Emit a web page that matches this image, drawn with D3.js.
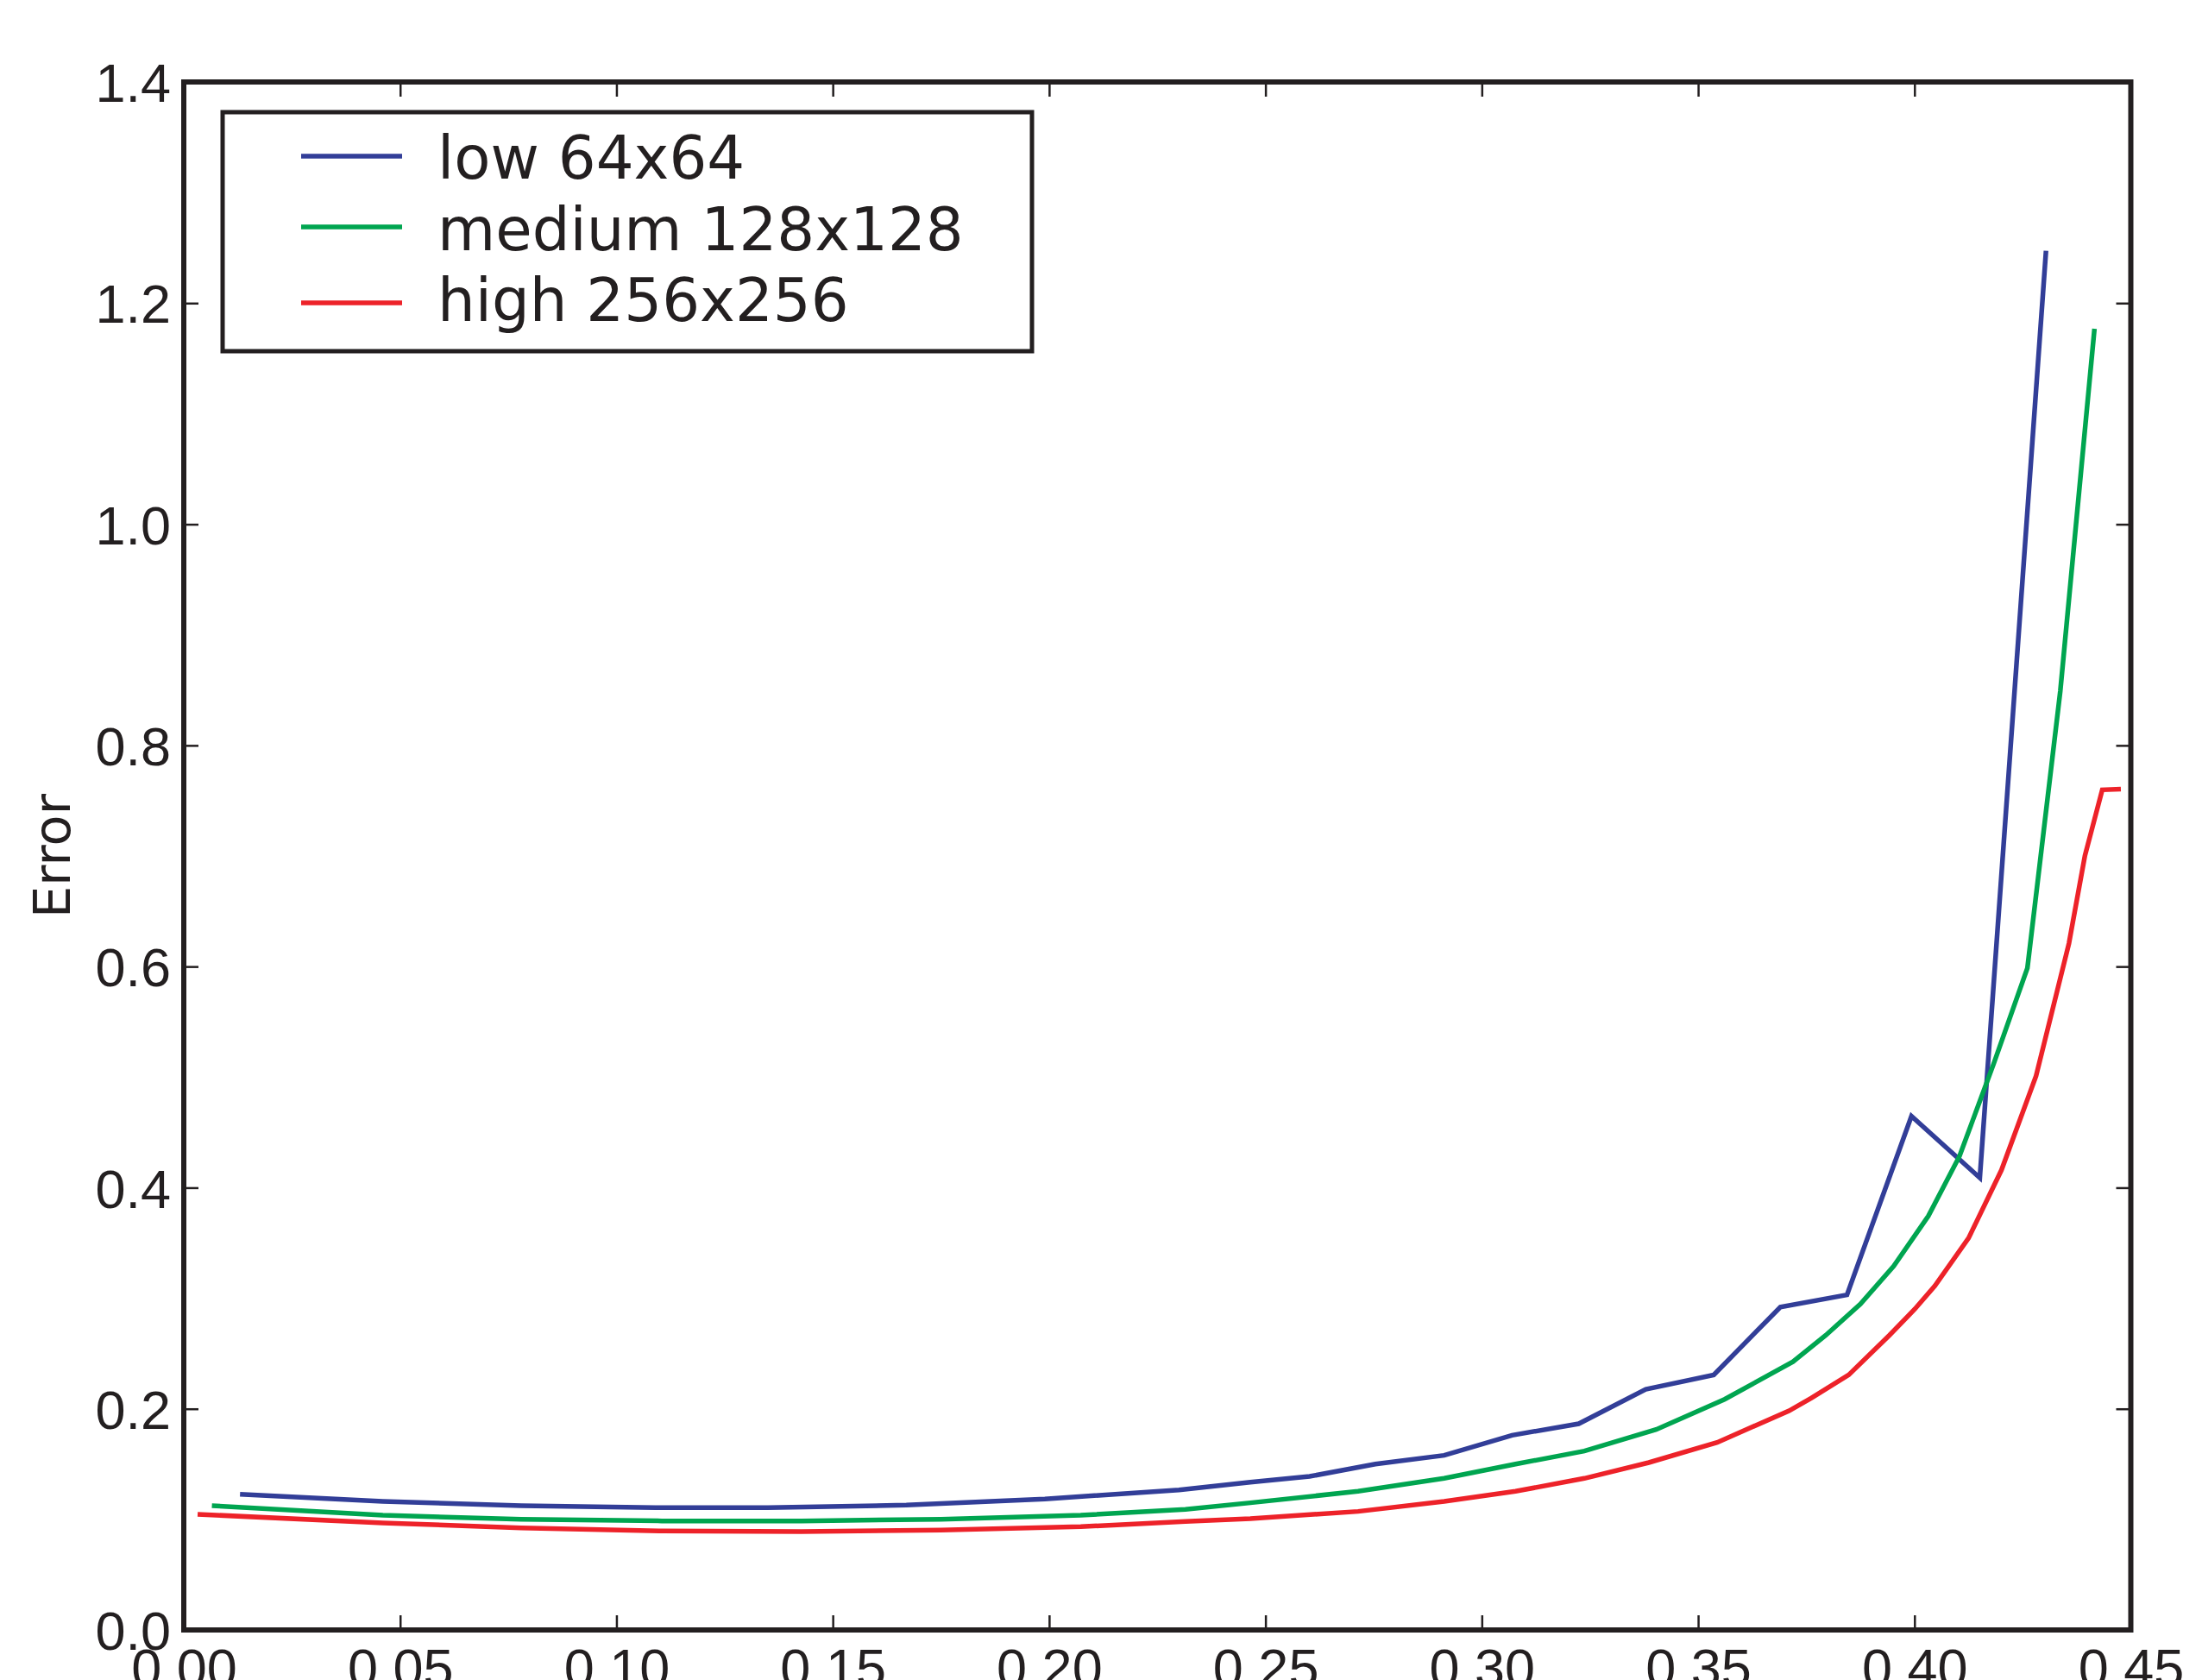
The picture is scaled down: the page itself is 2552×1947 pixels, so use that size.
<!DOCTYPE html>
<html>
<head>
<meta charset="utf-8">
<script src="https://cdn.jsdelivr.net/npm/d3@7"></script>
<style>
  body { margin: 0; background: #fff; }
  svg { display: block; font-family: "DejaVu Sans", sans-serif; }
</style>
</head>
<body>
<div id="chart"></div>
<script>
// Series (x = position, y = error)
const lowX = [0.013, 0.046, 0.078, 0.109, 0.135, 0.167, 0.199, 0.230, 0.2465, 0.2602, 0.2754, 0.2913, 0.307, 0.3224, 0.3379, 0.3536, 0.369, 0.3844, 0.3993, 0.4151, 0.4304];
const lowY = [0.1228, 0.1163, 0.1124, 0.1106, 0.1106, 0.1129, 0.1184, 0.1267, 0.1337, 0.1389, 0.150, 0.1579, 0.1761, 0.1865, 0.2177, 0.2307, 0.292, 0.3031, 0.4647, 0.4089, 1.2473];

const medX = [0.0065, 0.046, 0.078, 0.1105, 0.1427, 0.175, 0.2073, 0.2315, 0.2465, 0.2714, 0.2913, 0.3078, 0.3237, 0.3403, 0.3561, 0.3719, 0.3795, 0.3875, 0.3952, 0.4032, 0.4104, 0.4183, 0.4261, 0.4337, 0.4416];
const medY = [0.1124, 0.1038, 0.1001, 0.0986, 0.0986, 0.1001, 0.1038, 0.109, 0.115, 0.1254, 0.1371, 0.150, 0.1618, 0.1813, 0.2086, 0.2425, 0.2665, 0.2948, 0.329, 0.3744, 0.4285, 0.512, 0.5986, 0.849, 1.1769];

const highX = [0.0032, 0.046, 0.078, 0.1105, 0.1427, 0.175, 0.2073, 0.2315, 0.2465, 0.2714, 0.2913, 0.3078, 0.3237, 0.3386, 0.3544, 0.371, 0.3762, 0.3848, 0.3942, 0.4001, 0.4047, 0.4125, 0.4201, 0.4281, 0.4357, 0.4394, 0.4434, 0.4477];
const highY = [0.1046, 0.0968, 0.0923, 0.0895, 0.089, 0.0903, 0.0934, 0.0981, 0.1007, 0.1072, 0.1163, 0.1254, 0.1371, 0.1514, 0.1696, 0.1982, 0.2098, 0.2307, 0.2665, 0.2903, 0.3112, 0.3544, 0.4159, 0.501, 0.6209, 0.7004, 0.7598, 0.7604];

const seriesNames = ['low 64x64', 'medium 128x128', 'high 256x256'];
const seriesColors = ['#323e98', '#00a550', '#ed2229'];

const xTicks = [0, 0.05, 0.10, 0.15, 0.20, 0.25, 0.30, 0.35, 0.40, 0.45];
const yTicks = [0, 0.2, 0.4, 0.6, 0.8, 1.0, 1.2, 1.4];

const ink = '#231f20';

function renderChart() {
    const width = 2552, height = 1947;
    const margin = { top: 95, right: 82.5, bottom: 58, left: 213 };

    const svg = d3.select('#chart').append('svg')
        .attr('width', width)
        .attr('height', height);

    const xScale = d3.scaleLinear().domain([0, 0.45]).range([margin.left, width - margin.right]);
    const yScale = d3.scaleLinear().domain([0, 1.4]).range([height - margin.bottom, margin.top]);

    const series = [
        { name: seriesNames[0], color: seriesColors[0], pts: lowX.map((x, i) => [x, lowY[i]]) },
        { name: seriesNames[1], color: seriesColors[1], pts: medX.map((x, i) => [x, medY[i]]) },
        { name: seriesNames[2], color: seriesColors[2], pts: highX.map((x, i) => [x, highY[i]]) }
    ];

    const line = d3.line()
        .x(d => xScale(d[0]))
        .y(d => yScale(d[1]));

    // Data lines
    svg.selectAll('.series')
        .data(series)
        .enter()
        .append('path')
        .attr('class', 'series')
        .attr('d', d => line(d.pts))
        .attr('fill', 'none')
        .attr('stroke', d => d.color)
        .attr('stroke-width', 5.5)
        .attr('stroke-linejoin', 'miter');

    // Axes with inward ticks on all four sides
    const styleAxis = g => {
        g.select('.domain').remove();
        g.selectAll('.tick line').attr('stroke', ink).attr('stroke-width', 2.5);
        g.selectAll('.tick text').attr('fill', ink).style('font-size', '63px');
    };

    svg.append('g')
        .attr('transform', `translate(0,${height - margin.bottom})`)
        .call(d3.axisBottom(xScale).tickValues(xTicks).tickFormat(d3.format('.2f'))
            .tickSizeInner(-17).tickSizeOuter(0).tickPadding(21))
        .call(styleAxis);

    svg.append('g')
        .attr('transform', `translate(0,${margin.top})`)
        .call(d3.axisTop(xScale).tickValues(xTicks).tickFormat('')
            .tickSizeInner(-17).tickSizeOuter(0))
        .call(styleAxis);

    svg.append('g')
        .attr('transform', `translate(${margin.left},0)`)
        .call(d3.axisLeft(yScale).tickValues(yTicks).tickFormat(d3.format('.1f'))
            .tickSizeInner(-17).tickSizeOuter(0).tickPadding(15))
        .call(styleAxis)
        .selectAll('.tick text').attr('dy', '0.36em');

    svg.append('g')
        .attr('transform', `translate(${width - margin.right},0)`)
        .call(d3.axisRight(yScale).tickValues(yTicks).tickFormat('')
            .tickSizeInner(-17).tickSizeOuter(0))
        .call(styleAxis);

    // Frame
    svg.append('rect')
        .attr('x', margin.left)
        .attr('y', margin.top)
        .attr('width', width - margin.right - margin.left)
        .attr('height', height - margin.bottom - margin.top)
        .attr('fill', 'none')
        .attr('stroke', ink)
        .attr('stroke-width', 6);

    // Y axis label
    svg.append('text')
        .attr('transform', `translate(81,${(margin.top + height - margin.bottom) / 2}) rotate(-90)`)
        .attr('text-anchor', 'middle')
        .attr('fill', ink)
        .style('font-size', '59px')
        .text('Error');

    // Legend
    const legend = svg.append('g');
    legend.append('rect')
        .attr('x', 258).attr('y', 130)
        .attr('width', 938).attr('height', 277)
        .attr('fill', '#fff')
        .attr('stroke', ink)
        .attr('stroke-width', 5);

    const lineY = [181, 263, 351];
    const textY = [207, 290, 372];
    series.forEach((s, i) => {
        legend.append('line')
            .attr('x1', 349).attr('x2', 466)
            .attr('y1', lineY[i]).attr('y2', lineY[i])
            .attr('stroke', s.color)
            .attr('stroke-width', 5.5);
        legend.append('text')
            .attr('x', 507).attr('y', textY[i])
            .attr('fill', ink)
            .style('font-size', '69px')
            .text(s.name);
    });
}

window.onload = renderChart;
</script>
</body>
</html>
